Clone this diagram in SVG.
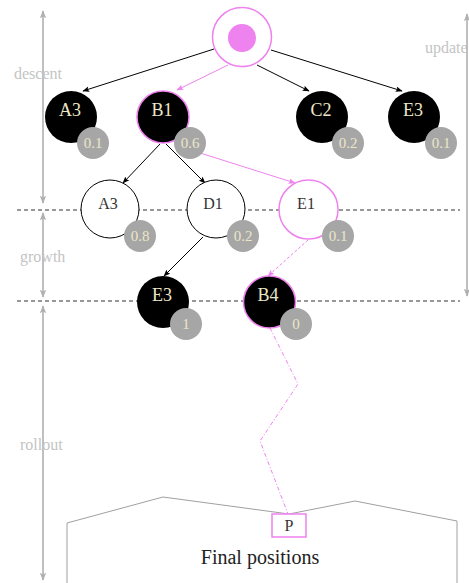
<svg xmlns="http://www.w3.org/2000/svg" width="469" height="583" viewBox="0 0 469 583">
<defs>
<style>
.lbl{font-family:"Liberation Serif","DejaVu Serif",serif;text-anchor:middle}
.nl{font-size:18px;fill:#ebe7c6}
.wl{font-size:16px;fill:#333}
.bt{font-size:15px;fill:#ebe7c6}
.badge{fill:#a6a6a6}
.blk{fill:#000}
.wht{fill:#fff;stroke:#000;stroke-width:1}
.vio{stroke:#ee82ee;stroke-width:1.5}
.phase{font-family:"Liberation Serif","DejaVu Serif",serif;font-size:16px;fill:#c4c4c4}
.garrow{stroke:#b0b0b0;stroke-width:1.6;fill:none;marker-start:url(#gs);marker-end:url(#ge)}
.dash{stroke:#333;stroke-width:1.2;stroke-dasharray:4 3;fill:none}
.e{stroke:#000;stroke-width:1;fill:none;marker-end:url(#ab)}
.ev{stroke:#ee82ee;stroke-width:1;fill:none;marker-end:url(#av)}
</style>
<marker id="ab" viewBox="0 0 10 10" refX="9" refY="5" markerWidth="7" markerHeight="7" markerUnits="userSpaceOnUse" orient="auto"><path d="M0,1 L10,5 L0,9 L2,5 z" fill="#000"/></marker>
<marker id="av" viewBox="0 0 10 10" refX="9" refY="5" markerWidth="7" markerHeight="7" markerUnits="userSpaceOnUse" orient="auto"><path d="M0,1 L10,5 L0,9 L2,5 z" fill="#ee82ee"/></marker>
<marker id="ge" viewBox="0 0 10 10" refX="9" refY="5" markerWidth="8" markerHeight="8" markerUnits="userSpaceOnUse" orient="auto"><path d="M0,1 L10,5 L0,9 L2,5 z" fill="#b0b0b0"/></marker>
<marker id="gs" viewBox="0 0 10 10" refX="1" refY="5" markerWidth="8" markerHeight="8" markerUnits="userSpaceOnUse" orient="auto"><path d="M10,1 L0,5 L10,9 L8,5 z" fill="#b0b0b0"/></marker>
</defs>
<rect width="469" height="583" fill="#fff"/>

<g id="phases">
<line class="garrow" x1="43" y1="11" x2="43" y2="203"/>
<line class="garrow" x1="43" y1="213" x2="43" y2="297"/>
<line class="garrow" x1="43" y1="306" x2="43" y2="580"/>
<text class="phase" x="14" y="79">descent</text>
<text class="phase" x="20" y="262">growth</text>
<text class="phase" x="20" y="450">rollout</text>
<text class="phase" x="425" y="53">update</text>
<line class="garrow" x1="467" y1="14" x2="467" y2="296"/>
<line class="dash" x1="17" y1="210" x2="460" y2="210"/>
<line class="dash" x1="17" y1="301" x2="460" y2="301"/>
</g>

<g id="final">
<polyline points="67,583 67,523 163,497 289,514 355,501 457,521 457,583" fill="none" stroke="#a0a0a0" stroke-width="1"/>
<text class="lbl" x="260" y="564" style="font-size:20px;fill:#222">Final positions</text>
</g>

<g id="connectors">
<line class="e" x1="214" y1="49" x2="83" y2="91"/>
<line class="ev" x1="228" y1="65" x2="177" y2="90"/>
<line class="e" x1="257" y1="65" x2="309" y2="91"/>
<line class="e" x1="271" y1="50" x2="402" y2="91"/>
<line class="e" x1="160" y1="144" x2="123" y2="183"/>
<line class="e" x1="166" y1="144" x2="205" y2="183"/>
<line class="ev" x1="178" y1="146" x2="295" y2="183"/>
<line class="e" x1="203" y1="237" x2="164" y2="276"/>
<line class="ev" x1="308" y1="240" x2="268" y2="276" stroke-dasharray="3 2"/>
<polyline points="270,328 298,384 260,441 288,514" fill="none" stroke="#ee82ee" stroke-width="1" stroke-dasharray="4 2 1 2"/>
</g>

<g id="root">
<circle cx="242" cy="37" r="29.5" fill="#fff" stroke="#ee82ee" stroke-width="1.5"/>
<circle cx="242" cy="38" r="14" fill="#ee82ee"/>
</g>

<g id="n-A3-1"><circle class="blk" cx="71" cy="117" r="26"/><text class="lbl nl" x="70" y="116">A3</text>
<circle class="badge" cx="93" cy="143" r="16"/><text class="lbl bt" x="93" y="148">0.1</text></g>
<g id="n-B1"><circle class="blk vio" cx="163" cy="117" r="26"/><text class="lbl nl" x="162" y="116">B1</text>
<circle class="badge" cx="190" cy="143" r="16"/><text class="lbl bt" x="190" y="148">0.6</text></g>
<g id="n-C2"><circle class="blk" cx="322" cy="117" r="26"/><text class="lbl nl" x="321" y="116">C2</text>
<circle class="badge" cx="348" cy="143" r="16"/><text class="lbl bt" x="348" y="148">0.2</text></g>
<g id="n-E3-1"><circle class="blk" cx="414" cy="117" r="26"/><text class="lbl nl" x="413" y="116">E3</text>
<circle class="badge" cx="441" cy="143" r="16"/><text class="lbl bt" x="441" y="148">0.1</text></g>

<g id="n-A3-2"><circle class="wht" cx="110" cy="209" r="29"/><text class="lbl wl" x="108" y="209">A3</text>
<circle class="badge" cx="140" cy="236" r="16"/><text class="lbl bt" x="140" y="241">0.8</text></g>
<g id="n-D1"><circle class="wht" cx="216" cy="209" r="29"/><text class="lbl wl" x="213" y="209">D1</text>
<circle class="badge" cx="243" cy="236" r="16"/><text class="lbl bt" x="243" y="241">0.2</text></g>
<g id="n-E1"><circle class="wht" cx="308.5" cy="209.5" r="29.5" style="stroke:#ee82ee;stroke-width:1.5"/><text class="lbl wl" x="306" y="209">E1</text>
<circle class="badge" cx="338" cy="236" r="16"/><text class="lbl bt" x="338" y="241">0.1</text></g>

<g id="n-E3-3"><circle class="blk" cx="163" cy="302" r="26"/><text class="lbl nl" x="162" y="301">E3</text>
<circle class="badge" cx="186" cy="324" r="16"/><text class="lbl bt" x="186" y="329">1</text></g>
<g id="n-B4"><circle class="blk vio" cx="269.5" cy="302" r="26"/><text class="lbl nl" x="268" y="301">B4</text>
<circle class="badge" cx="296" cy="324" r="16"/><text class="lbl bt" x="296" y="329">0</text></g>

<g id="n-P"><rect x="272" y="514" width="34" height="23" fill="#fff" stroke="#ee82ee" stroke-width="1.5"/>
<text class="lbl" x="289" y="531" style="font-size:16px;fill:#333">P</text></g>
</svg>
